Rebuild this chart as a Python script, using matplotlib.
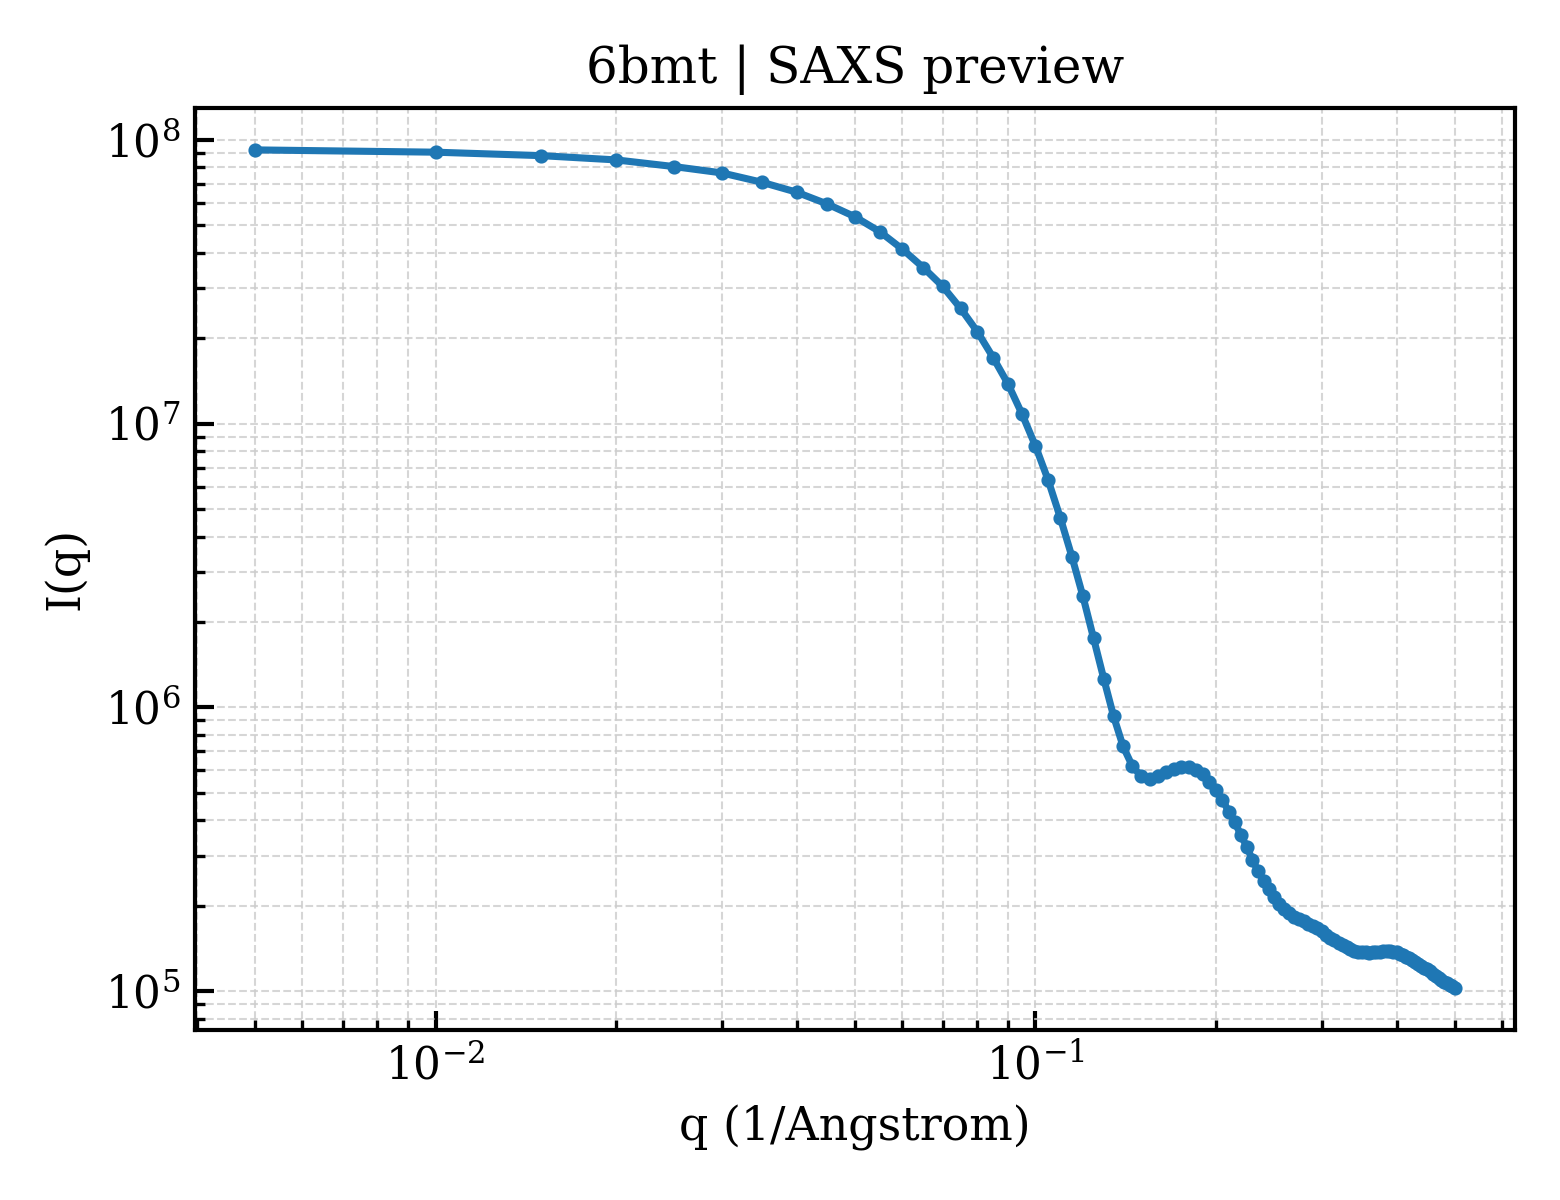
import matplotlib
matplotlib.use("Agg")
import matplotlib.pyplot as plt

# scattering curve
q = [0.005, 0.010, 0.015, 0.020, 0.025, 0.030, 0.035, 0.040, 0.045, 0.050,
     0.055, 0.060, 0.065, 0.070, 0.075, 0.080, 0.085, 0.090, 0.095, 0.100,
     0.105, 0.110, 0.115, 0.120, 0.125, 0.130, 0.135, 0.140, 0.145, 0.150,
     0.155, 0.160, 0.165, 0.170, 0.175, 0.180, 0.185, 0.190, 0.195, 0.200,
     0.205, 0.210, 0.215, 0.220, 0.225, 0.230, 0.235, 0.240, 0.245, 0.250,
     0.255, 0.260, 0.265, 0.270, 0.275, 0.280, 0.285, 0.290, 0.295, 0.300,
     0.305, 0.310, 0.315, 0.320, 0.325, 0.330, 0.335, 0.340, 0.345, 0.350,
     0.355, 0.360, 0.365, 0.370, 0.375, 0.380, 0.385, 0.390, 0.395, 0.400,
     0.405, 0.410, 0.415, 0.420, 0.425, 0.430, 0.435, 0.440, 0.445, 0.450,
     0.455, 0.460, 0.465, 0.470, 0.475, 0.480, 0.485, 0.490, 0.495, 0.500]

intensity = [9.22e7, 9.05e7, 8.80e7, 8.50e7, 8.05e7, 7.65e7, 7.09e7, 6.54e7, 5.94e7, 5.36e7,
             4.75e7, 4.12e7, 3.55e7, 3.05e7, 2.55e7, 2.11e7, 1.71e7, 1.38e7, 1.08e7, 8.34e6,
             6.32e6, 4.66e6, 3.40e6, 2.46e6, 1.75e6, 1.26e6, 9.29e5, 7.28e5, 6.22e5, 5.71e5,
             5.60e5, 5.71e5, 5.91e5, 6.08e5, 6.16e5, 6.16e5, 6.03e5, 5.82e5, 5.45e5, 5.12e5,
             4.72e5, 4.29e5, 3.93e5, 3.55e5, 3.23e5, 2.90e5, 2.65e5, 2.45e5, 2.29e5, 2.15e5,
             2.03e5, 1.94e5, 1.885e5, 1.83e5, 1.80e5, 1.77e5, 1.73e5, 1.70e5, 1.665e5, 1.63e5,
             1.58e5, 1.54e5, 1.51e5, 1.48e5, 1.454e5, 1.427e5, 1.407e5, 1.39e5, 1.378e5, 1.372e5,
             1.369e5, 1.365e5, 1.368e5, 1.373e5, 1.379e5, 1.385e5, 1.387e5, 1.382e5, 1.378e5, 1.37e5,
             1.353e5, 1.339e5, 1.323e5, 1.304e5, 1.286e5, 1.266e5, 1.246e5, 1.228e5, 1.21e5, 1.193e5,
             1.173e5, 1.152e5, 1.132e5, 1.113e5, 1.095e5, 1.08e5, 1.066e5, 1.053e5, 1.041e5, 1.028e5]

plt.rcParams["font.family"] = "DejaVu Serif"
plt.rcParams["mathtext.fontset"] = "dejavuserif"

fig, ax = plt.subplots(figsize=(5.2, 4), dpi=300)
fig.subplots_adjust(left=0.125, right=0.971, top=0.91, bottom=0.142)

ax.plot(q, intensity, marker="o", markersize=2.4, linewidth=1.7, color="#1f77b4")
ax.set_xscale("log")
ax.set_yscale("log")

ax.set_title("6bmt | SAXS preview", fontsize=12)
ax.set_xlabel("q (1/Angstrom)", fontsize=11)
ax.set_ylabel("I(q)", fontsize=11)

ax.tick_params(which="major", direction="in", length=4.5, width=1, labelsize=10.5)
ax.tick_params(which="minor", direction="in", length=2.5, width=0.8)
for side in ax.spines.values():
    side.set_linewidth(1.0)

ax.grid(True, which="both", linestyle="--", linewidth=0.5, color="#cccccc", alpha=0.8)

fig.savefig("out.png", dpi=300)
